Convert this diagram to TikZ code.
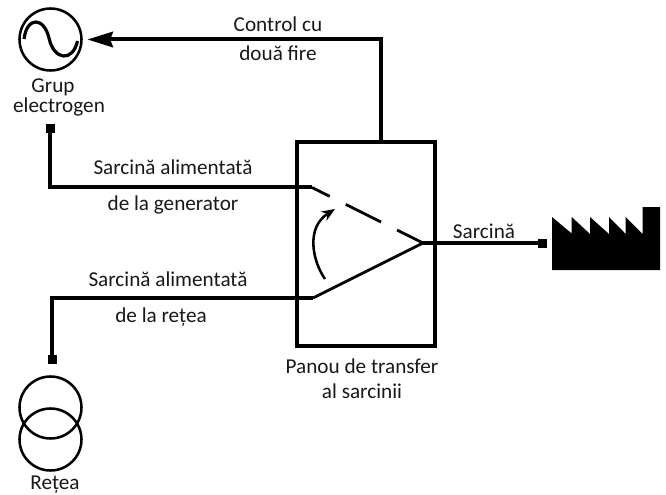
\documentclass[tikz,border=0pt]{standalone}
\usepackage{fontspec}
\setmainfont{Carlito}
\usetikzlibrary{arrows.meta}
\tikzset{
  lbl/.style={anchor=base,inner sep=0pt,font=\fontsize{15.9pt}{18pt}\selectfont,text=black!90},
  terminal/.style={fill=black,inner sep=0pt,minimum size=6.75pt,outer sep=0pt},
  symb/.style={circle,draw=black,line width=1.9pt,minimum size=46.5pt,inner sep=0pt,outer sep=0pt},
  wire/.style={draw=black,line width=3pt,line join=miter},
  thin wire/.style={draw=black,line width=2.1pt},
  panel/.style={draw=black,line width=2.8pt,minimum width=103.5pt,minimum height=153pt,inner sep=0pt,outer sep=0pt}
}
\begin{document}
\begin{tikzpicture}[x=0.75pt,y=-0.75pt]
\useasboundingbox[fill=white] (0,0) rectangle (666,495);
% symbols
\node[symb] (gen) at (50.5,39.5) {};
\node[symb] (net1) at (50.5,407.5) {};
\node[symb] (net2) at (50.5,439.5) {};
\draw[line width=2.4pt] (24,39) .. controls (27,16) and (44,17) .. (49,38)
  .. controls (54,61) and (73,62) .. (77.5,41);
\node[panel] (box) at (366,244) {};
% terminals
\node[terminal] (tg) at (50,128.5) {};
\node[terminal] (tn) at (52,359) {};
\node[terminal] (tl) at (542,243) {};
% switch coordinates
\coordinate (pg) at (312,187.5);
\coordinate (pn) at (313,298);
\coordinate (pc) at (423,243);
\coordinate (ctop) at (381,142);
\coordinate (a1) at (325,279);
\coordinate (a2) at (335,209);
% connectors
\draw[wire,-{Stealth[length=19pt,width=11.5pt,inset=2pt]},shorten >=4.5pt] (ctop) |- (gen.east);
\draw[wire] (tg.center) |- (pg);
\draw[wire] (tn.center) |- (pn);
\draw[thin wire] (pg) -- (pc) ;
\draw[white,line width=3pt,dash pattern=on 0pt off 15pt on 13.2pt off 14.8pt] (pg) -- (pc);
\draw[thin wire] (pn) -- (pc);
\draw[draw=black,line width=2.5pt] (pc) -- (tl.center);
\draw[draw=black,line width=1.9pt,-{Stealth[length=10pt,width=8pt]}] (a1) .. controls (313,262) and (305,228) .. (a2);
% factory
\fill[black] (552,217) -- (571.7,233.5) -- (571.7,217) -- (590,234) -- (590,217) -- (609,234) -- (609,217) -- (625.7,234) -- (625.7,217) -- (642.7,234) -- (642.7,207) -- (660,207) -- (660,270) -- (552,270) -- cycle;
% labels
\node[lbl] (l1) at (278,32) {Control cu};
\node[lbl] (l2) at (278,61) {două fire};
\node[lbl] (l3) at (53,93) {Grup};
\node[lbl] (l4) at (59,113) {electrogen};
\node[lbl] (l5) at (173,175) {Sarcină alimentată};
\node[lbl] (l6) at (173,210) {de la generator};
\node[lbl] (l7) at (168,286) {Sarcină alimentată};
\node[lbl] (l8) at (161,322) {de la rețea};
\node[lbl] (l9) at (55,489.5) {Rețea};
\node[lbl] (l10) at (362,373) {Panou de transfer};
\node[lbl] (l11) at (362,398) {al sarcinii};
\node[lbl] (l12) at (484,238) {Sarcină};
\end{tikzpicture}
\end{document}
